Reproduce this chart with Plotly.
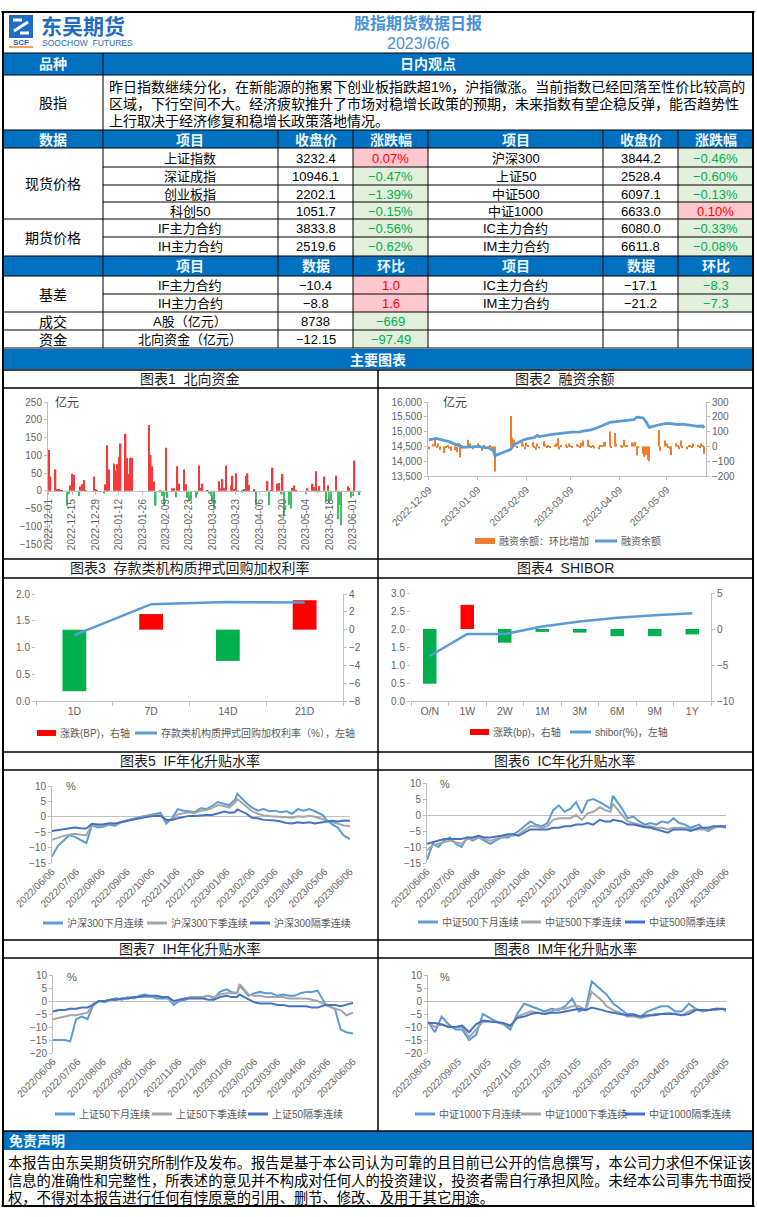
import plotly.graph_objects as go

W, H = 757, 1217
def X(x): return x / W
def Y(y): return 1 - y / H

FONT = "Liberation Sans, Noto Sans CJK SC, sans-serif"
BLUE = "#0070C0"
RED_BG, RED_TX = "#FFC7CE", "#FF0000"
GRN_BG, GRN_TX = "#E2EFDA", "#00B050"
TICKC = "#636363"
AX = "#BFBFBF"

# ---------------- data ----------------
report_title = "股指期货数据日报"
report_date = "2023/6/6"
view_lines = [
    "昨日指数继续分化，在新能源的拖累下创业板指跌超1%，沪指微涨。当前指数已经回落至性价比较高的",
    "区域，下行空间不大。经济疲软推升了市场对稳增长政策的预期，未来指数有望企稳反弹，能否趋势性",
    "上行取决于经济修复和稳增长政策落地情况。",
]
disclaimer_lines = [
    "本报告由东吴期货研究所制作及发布。报告是基于本公司认为可靠的且目前已公开的信息撰写，本公司力求但不保证该",
    "信息的准确性和完整性，所表述的意见并不构成对任何人的投资建议，投资者需自行承担风险。未经本公司事先书面授",
    "权，不得对本报告进行任何有悖原意的引用、删节、修改、及用于其它用途。",
]

px_names_l = ["上证指数", "深证成指", "创业板指", "科创50", "IF主力合约", "IH主力合约"]
px_close_l = ["3232.4", "10946.1", "2202.1", "1051.7", "3833.8", "2519.6"]
px_chg_l = [0.07, -0.47, -1.39, -0.15, -0.56, -0.62]
px_names_r = ["沪深300", "上证50", "中证500", "中证1000", "IC主力合约", "IM主力合约"]
px_close_r = ["3844.2", "2528.4", "6097.1", "6633.0", "6080.0", "6611.8"]
px_chg_r = [-0.46, -0.60, -0.13, 0.10, -0.33, -0.08]

basis_names_l = ["IF主力合约", "IH主力合约"]
basis_vals_l = [-10.4, -8.8]
basis_chg_l = [1.0, 1.6]
basis_names_r = ["IC主力合约", "IM主力合约"]
basis_vals_r = [-17.1, -21.2]
basis_chg_r = [-8.3, -7.3]
flow_labels = ["成交", "资金"]
flow_items = ["A股（亿元）", "北向资金（亿元）"]
flow_vals = ["8738", "−12.15"]
flow_chg = [-669, -97.49]
flow_chg_txt = ["−669", "−97.49"]

# chart 1: northbound net flow (亿元)
nb_dates = ["2022-12-01","2022-12-02","2022-12-05","2022-12-06","2022-12-07","2022-12-08","2022-12-09",
"2022-12-12","2022-12-13","2022-12-14","2022-12-15","2022-12-16",
"2022-12-19","2022-12-20","2022-12-21","2022-12-22","2022-12-23",
"2022-12-28","2022-12-29","2022-12-30",
"2023-01-03","2023-01-04","2023-01-05","2023-01-06",
"2023-01-09","2023-01-10","2023-01-11","2023-01-12","2023-01-13",
"2023-01-16","2023-01-17","2023-01-18","2023-01-19","2023-01-20",
"2023-01-30","2023-01-31","2023-02-01","2023-02-02","2023-02-03",
"2023-02-06","2023-02-07","2023-02-08","2023-02-09","2023-02-10",
"2023-02-13","2023-02-14","2023-02-15","2023-02-16","2023-02-17",
"2023-02-20","2023-02-21","2023-02-22","2023-02-23","2023-02-24",
"2023-02-27","2023-02-28","2023-03-01","2023-03-02","2023-03-03",
"2023-03-06","2023-03-07","2023-03-08","2023-03-09","2023-03-10",
"2023-03-13","2023-03-14","2023-03-15","2023-03-16","2023-03-17",
"2023-03-20","2023-03-21","2023-03-22","2023-03-23","2023-03-24",
"2023-03-27","2023-03-28","2023-03-29","2023-03-30","2023-03-31",
"2023-04-03","2023-04-04",
"2023-04-11","2023-04-12","2023-04-13","2023-04-14",
"2023-04-17","2023-04-18","2023-04-19","2023-04-20","2023-04-21",
"2023-04-24","2023-04-25","2023-04-26","2023-04-27","2023-04-28",
"2023-05-04","2023-05-05",
"2023-05-08","2023-05-09","2023-05-10","2023-05-11","2023-05-12",
"2023-05-15","2023-05-16","2023-05-17","2023-05-18","2023-05-19",
"2023-05-22","2023-05-23","2023-05-24","2023-05-25",
"2023-05-29","2023-05-30","2023-05-31","2023-06-01","2023-06-02",
"2023-06-05"]
nb_values = [115,40,60,5,3,2,2,
-43,-10,15,48,45,
-15,12,18,30,2,
40,3,1,
-8,18,128,60,
77,57,75,95,133,
160,92,47,93,93,
185,101,69,26,-42,
-5,-15,-40,121,-20,
7,7,-18,69,20,
60,18,-20,-30,-25,
-20,-10,71,8,20,
2,-8,-15,-30,-50,
27,7,33,8,71,
15,42,5,49,-3,
-5,3,42,49,16,
5,-40,
27,-40,2,65,
20,22,-10,47,-70,
-40,-50,8,15,2,
-10,7,
20,10,55,-5,13,
40,-30,15,-35,-25,
42,-80,-40,-97,
13,8,-20,-15,85,
-12.15]

# chart 2: margin financing balance (亿元) and daily change
margin_dates = ["2022-12-09","2022-12-12","2022-12-14","2022-12-16","2022-12-20","2022-12-22","2022-12-26",
"2022-12-28","2022-12-30","2023-01-03","2023-01-06","2023-01-10","2023-01-12","2023-01-16","2023-01-18",
"2023-01-19","2023-01-20","2023-01-30","2023-02-01","2023-02-06","2023-02-08","2023-02-10","2023-02-14",
"2023-02-16","2023-02-17","2023-02-21","2023-02-24","2023-02-28","2023-03-03","2023-03-08","2023-03-10",
"2023-03-15","2023-03-17","2023-03-22","2023-03-24","2023-03-29","2023-04-03","2023-04-07","2023-04-12",
"2023-04-14","2023-04-18","2023-04-20","2023-04-21","2023-04-24","2023-04-25","2023-04-26","2023-04-27",
"2023-04-28","2023-05-05","2023-05-09","2023-05-12","2023-05-16","2023-05-19","2023-05-24","2023-05-29",
"2023-06-01","2023-06-02"]
margin_bal = [14720,14760,14770,14740,14700,14660,14560,
14570,14470,14490,14500,14500,14470,14450,14390,
14370,14190,14400,14560,14700,14740,14760,14800,
14870,14830,14860,14900,14920,14940,14960,14980,
14990,15020,15060,15090,15200,15310,15340,15370,
15390,15400,15480,15490,15460,15400,15330,15230,
15140,15240,15280,15270,15240,15250,15210,15180,
15190,15130]
chg_dates = ["2022-12-09","2022-12-12","2022-12-13","2022-12-14","2022-12-15","2022-12-16","2022-12-19","2022-12-20",
"2022-12-21","2022-12-22","2022-12-23","2022-12-26","2022-12-27","2022-12-28","2022-12-29","2022-12-30",
"2023-01-03","2023-01-04","2023-01-05","2023-01-06","2023-01-09","2023-01-10","2023-01-11","2023-01-12",
"2023-01-13","2023-01-16","2023-01-17","2023-01-18","2023-01-19","2023-01-20","2023-01-30","2023-01-31",
"2023-02-01","2023-02-02","2023-02-03","2023-02-06","2023-02-07","2023-02-08","2023-02-09","2023-02-10",
"2023-02-13","2023-02-14","2023-02-15","2023-02-16","2023-02-17","2023-02-20","2023-02-21","2023-02-22",
"2023-02-23","2023-02-24","2023-02-27","2023-02-28","2023-03-01","2023-03-02","2023-03-03","2023-03-06",
"2023-03-07","2023-03-08","2023-03-09","2023-03-10","2023-03-13","2023-03-14","2023-03-15","2023-03-16",
"2023-03-17","2023-03-20","2023-03-21","2023-03-22","2023-03-23","2023-03-24","2023-03-27","2023-03-28",
"2023-03-29","2023-03-30","2023-03-31","2023-04-03","2023-04-04","2023-04-06","2023-04-07","2023-04-10",
"2023-04-11","2023-04-12","2023-04-13","2023-04-14","2023-04-17","2023-04-18","2023-04-19","2023-04-20",
"2023-04-21","2023-04-24","2023-04-25","2023-04-26","2023-04-27","2023-04-28","2023-05-04","2023-05-05",
"2023-05-08","2023-05-09","2023-05-10","2023-05-11","2023-05-12","2023-05-15","2023-05-16","2023-05-17",
"2023-05-18","2023-05-19","2023-05-22","2023-05-23","2023-05-24","2023-05-25","2023-05-26","2023-05-29",
"2023-05-30","2023-05-31","2023-06-01","2023-06-02"]
margin_chg = [-20,15,45,-10,20,-25,-45,-10,10,-15,-30,-25,-40,10,-75,5,
45,20,-10,-20,20,10,-5,-30,10,-15,10,-20,-35,-170,205,60,
45,20,-10,35,15,-20,25,10,30,-10,-25,20,-15,35,15,-5,10,-10,5,20,
55,-20,10,15,-5,20,10,-10,15,5,-5,25,40,45,10,-10,5,-15,-20,10,5,30,30,
100,-10,90,20,10,-10,45,5,10,30,20,30,-60,-5,-50,-70,-60,-90,-100,
110,-30,40,20,-10,-20,-60,20,10,-20,40,-10,-20,10,10,-10,20,10,-10,20,
10,-50]

# chart 3: pledged repo weighted rate
repo_terms = ["1D", "7D", "14D", "21D"]
repo_rate = [1.23, 1.81, 1.85, 1.84]
repo_chg_bp = [-6.9, 1.75, -3.5, 3.3]

# chart 4: SHIBOR
shibor_terms = ["O/N", "1W", "2W", "1M", "3M", "6M", "9M", "1Y"]
shibor_rate = [1.25, 1.86, 1.86, 2.07, 2.21, 2.31, 2.38, 2.44]
shibor_chg_bp = [-7.6, 3.35, -1.9, -0.4, -0.5, -1.0, -1.0, -0.75]

# charts 5-7: annualised basis (%)
basis_dates = ["2022-06-06","2022-06-13","2022-06-20","2022-06-27","2022-07-04","2022-07-11","2022-07-18","2022-07-25",
"2022-08-01","2022-08-08","2022-08-15","2022-08-22","2022-08-29","2022-09-05","2022-09-13","2022-09-19","2022-09-26",
"2022-10-10","2022-10-17","2022-10-24","2022-10-31","2022-11-07","2022-11-14","2022-11-21","2022-11-28","2022-12-05",
"2022-12-12","2022-12-19","2022-12-26","2023-01-03","2023-01-09","2023-01-16","2023-01-19","2023-01-30","2023-02-06",
"2023-02-13","2023-02-20","2023-02-27","2023-03-06","2023-03-13","2023-03-20","2023-03-27","2023-04-03","2023-04-10",
"2023-04-17","2023-04-24","2023-05-04","2023-05-08","2023-05-15","2023-05-22","2023-05-29","2023-06-06"]
if_next_month = [-12.9,-9.5,-7.8,-6.0,-6.5,-7.5,-8.5,-2.8,-3.5,-3.2,-2.5,-3.0,-1.8,-1.2,-0.8,-0.3,0.2,1.0,1.3,-2.2,-0.5,2.5,2.0,1.8,1.5,2.8,2.5,3.5,4.8,4.2,3.8,5.5,7.5,4.5,3.0,2.0,2.5,1.8,2.0,1.5,1.8,1.0,2.5,2.0,2.5,1.8,0.5,-1.0,-2.5,-3.5,-6.0,-7.3]
if_next_qtr = [-7.5,-6.8,-6.2,-5.8,-5.5,-5.8,-6.0,-2.6,-3.0,-2.8,-2.3,-2.5,-1.8,-1.3,-0.8,-0.4,0.0,0.6,0.5,-1.2,-0.8,0.8,1.2,1.5,1.2,2.0,2.2,2.8,3.8,3.5,3.0,4.5,5.8,3.5,1.8,1.0,0.5,0.3,0.2,0.0,0.0,-0.3,0.2,0.0,0.3,0.0,-0.8,-1.2,-1.8,-2.2,-2.8,-3.0]
if_far_qtr = [-4.6,-4.3,-4.0,-3.6,-3.5,-3.7,-3.8,-2.3,-2.5,-2.4,-2.1,-2.2,-1.8,-1.2,-0.8,-0.6,-0.2,0.3,0.3,-1.0,-1.0,-0.5,0.0,0.3,0.3,0.5,0.6,0.6,1.2,1.7,1.3,1.5,2.4,1.0,-0.3,-0.5,-1.0,-1.0,-1.2,-1.5,-2.0,-2.2,-1.8,-2.0,-1.8,-2.2,-1.8,-1.5,-1.3,-1.5,-1.2,-1.3]
ic_next_month = [-14.0,-9.0,-10.0,-8.0,-7.0,-9.0,-10.0,-7.0,-8.0,-7.0,-8.0,-9.0,-8.0,-7.0,-7.0,-6.0,-5.0,-2.0,-3.0,-3.5,-2.5,1.5,3.0,1.0,2.0,4.0,0.5,4.5,5.0,4.0,3.0,2.0,6.0,2.0,-1.0,-0.5,-2.0,-3.0,-2.5,-3.0,-2.0,-2.5,-1.0,-2.5,-3.0,-4.0,-3.0,-4.0,-5.0,-4.0,-3.5,-4.0]
ic_next_qtr = [-11.0,-9.5,-9.0,-8.5,-8.0,-8.5,-9.0,-7.5,-7.5,-7.0,-7.5,-8.0,-7.5,-7.0,-6.5,-6.5,-6.0,-3.5,-3.5,-4.0,-3.5,-1.5,-1.0,-1.0,-1.0,0.0,-1.5,0.5,1.0,2.5,1.5,1.0,3.5,0.0,-2.0,-2.5,-3.0,-3.5,-3.5,-4.0,-4.0,-4.5,-4.0,-4.0,-4.0,-4.5,-4.5,-4.5,-4.5,-4.0,-3.5,-3.5]
ic_far_qtr = [-9.0,-8.5,-8.0,-7.5,-7.5,-7.5,-7.5,-7.0,-7.0,-6.5,-7.0,-7.0,-6.8,-6.5,-6.0,-6.0,-6.5,-4.5,-4.5,-4.5,-4.5,-4.0,-4.0,-3.5,-3.5,-3.0,-3.0,-2.5,-3.0,-1.5,-2.0,-2.0,-1.5,-2.0,-3.0,-3.0,-3.5,-3.8,-4.0,-4.5,-5.0,-5.5,-4.5,-4.5,-4.5,-5.0,-4.0,-4.0,-4.0,-3.5,-3.5,-3.5]
ih_next_month = [-15.0,-15.0,-15.0,-15.5,-7.0,-6.0,-7.0,-1.5,0.0,-0.5,0.5,1.0,0.5,1.5,1.0,2.0,2.5,1.0,1.0,1.0,-1.5,0.0,0.5,1.5,1.5,1.5,2.0,1.0,3.5,4.5,3.5,3.0,6.0,2.0,3.0,3.5,3.0,3.0,2.0,2.5,2.0,2.0,3.0,3.5,3.5,4.0,-1.5,-2.0,-3.0,-11.0,-12.0,-12.5]
ih_next_qtr = [-7.0,-6.5,-6.0,-5.5,-5.5,-5.0,-4.5,-1.0,0.0,0.0,0.5,0.5,1.0,1.0,1.5,1.5,1.5,1.5,1.5,1.0,-0.5,0.5,1.0,1.5,1.5,1.5,2.0,1.5,2.5,3.0,3.0,3.0,6.5,2.5,2.0,2.0,1.5,1.5,1.5,1.5,1.0,1.0,1.0,1.0,0.5,0.0,-1.5,-2.0,-3.0,-3.5,-5.5,-4.5]
ih_far_qtr = [-4.0,-3.5,-3.5,-3.0,-3.0,-2.5,-2.5,-1.5,0.0,0.0,0.5,0.5,1.0,1.0,1.5,1.5,2.0,2.0,1.5,1.5,0.0,0.5,1.0,1.0,1.0,1.0,0.5,0.5,1.5,2.0,1.5,1.5,2.5,0.5,-0.5,-1.0,-1.0,-1.0,-1.5,-1.5,-2.0,-2.0,-2.0,-2.0,-2.5,-2.5,-1.5,-1.5,-1.5,-2.0,-1.5,-0.8]

# chart 8: IM annualised basis (%)
im_dates = ["2022-08-05","2022-08-12","2022-08-19","2022-08-26","2022-09-02","2022-09-09","2022-09-16","2022-09-23",
"2022-09-30","2022-10-14","2022-10-21","2022-10-28","2022-11-04","2022-11-11","2022-11-18","2022-11-25","2022-12-02",
"2022-12-09","2022-12-16","2022-12-23","2022-12-30","2023-01-06","2023-01-13","2023-01-19","2023-01-30","2023-02-03",
"2023-02-10","2023-02-17","2023-02-24","2023-03-03","2023-03-10","2023-03-17","2023-03-24","2023-03-31","2023-04-07",
"2023-04-14","2023-04-21","2023-04-28","2023-05-05","2023-05-12","2023-05-19","2023-05-26","2023-06-02","2023-06-05"]
im_next_month = [-8,-12,-6,-9,-11,-11,-15,-13,-5,-8,-9,-11,-5,-1,-2,-3,-4,-3,-3.5,-2,1,-4,-3,7.5,4,2.5,-1,-3,-5,-5,-6,-4,-3,-2,-2,-4,-4,-1,-3,-4,-3.5,-3,-3,-4]
im_next_qtr = [-8,-10,-9,-10,-10,-10,-14,-11,-8,-8,-9,-10,-6,-5,-4,-4.5,-5,-4,-3,-3,-2,-2,-3.5,3.5,0,-2,-3.5,-4.5,-6,-6,-6.5,-6,-5,-5,-4.5,-5,-5.5,-4,-3,-4,-3.5,-3.5,-3,-4]
im_far_qtr = [-8.5,-8.5,-9,-10,-10,-9.5,-12,-9,-7.5,-8,-8.5,-9.5,-6.5,-6,-5,-4.5,-5,-4.5,-4.5,-4,-3.5,-3,-3.5,-2.5,-3.5,-4,-4.5,-5,-5.5,-5.5,-6,-5.5,-5.5,-5,-5,-5,-5.5,-5,-3.5,-3.5,-3.5,-3,-3,-3.2]

# ---------------- helpers ----------------
shapes, ann = [], []

def rect(x0, y0, x1, y1, fill, lc=None, lw=0):
    shapes.append(dict(type="rect", xref="paper", yref="paper", x0=X(x0), x1=X(x1), y0=Y(y1), y1=Y(y0),
                       fillcolor=fill, line=dict(color=lc or fill, width=lw), layer="below"))

def hline(x0, x1, y, w=1, c="black"):
    shapes.append(dict(type="line", xref="paper", yref="paper", x0=X(x0), x1=X(x1), y0=Y(y), y1=Y(y),
                       line=dict(color=c, width=w), layer="above"))

def vline(x, y0, y1, w=1, c="black"):
    shapes.append(dict(type="line", xref="paper", yref="paper", x0=X(x), x1=X(x), y0=Y(y0), y1=Y(y1),
                       line=dict(color=c, width=w), layer="above"))

def T(x, y, s, size=13, color="#000000", xa="center", bold=False):
    ann.append(dict(x=X(x), y=Y(y), xref="paper", yref="paper", text=(f"<b>{s}</b>" if bold else s),
                    showarrow=False, xanchor=xa, yanchor="middle",
                    font=dict(size=size, color=color, family=FONT)))

def fmt_signed(v, d, pct=False):
    s = f"{abs(v):.{d}f}" + ("%" if pct else "")
    return ("−" + s) if v < 0 else s

def chg_cell(x0, y0, x1, y1, v, txt):
    pos = v > 0
    rect(x0, y0, x1, y1, RED_BG if pos else GRN_BG)
    T((x0 + x1) / 2, (y0 + y1) / 2 + 0.5, txt, 13, RED_TX if pos else GRN_TX)

def leg(kind, x0, x1, y, color, label):
    if kind == "rect":
        rect(x0, y - 3, x1, y + 3, color)
    else:
        hline(x0, x1, y, 3, color)
    T(x1 + 2, y, label, 10, "#595959", xa="left")

# ---------------- header ----------------
shapes.append(dict(type="rect", xref="paper", yref="paper", x0=X(9), x1=X(33), y0=Y(38), y1=Y(15),
                   fillcolor="#1F6CC0", line=dict(width=0), layer="below"))
hline(13, 22, 20, 3, "white"); hline(20, 29, 33, 3, "white")
shapes.append(dict(type="line", xref="paper", yref="paper", x0=X(14), x1=X(28), y0=Y(31), y1=Y(22),
                   line=dict(color="white", width=3)))
T(21, 42.5, "SCF", 8, "#1F6CC0", bold=True)
hline(9, 33, 47, 1.5, "#F08030")
T(39, 26, "东吴期货", 21, "#1F6CC0", xa="left", bold=True)
T(40, 43, "SOOCHOW  FUTURES", 8.5, "#1F6CC0", xa="left")
T(418, 23, report_title, 16, "#4A8FD8", bold=True)
T(418, 43, report_date, 16, "#4A8FD8")

# ---------------- table ----------------
cols = [3, 103, 278, 353, 428, 603, 678, 753]
HT = "#EEF5FC"
rect(3, 53, 753, 75, BLUE)
T(53, 64.5, "品种", 14, HT, bold=True)
T(428, 64.5, "日内观点", 14, HT, bold=True)
T(53, 103, "股指", 14)
for i, line in enumerate(view_lines):
    T(107, 86.5 + i * 17.3, line, 14, xa="left")

rect(3, 130, 753, 148, BLUE)
for i, h in enumerate(["数据", "项目", "收盘价", "涨跌幅", "项目", "收盘价", "涨跌幅"]):
    T((cols[i] + cols[i + 1]) / 2, 139.5, h, 14, HT, bold=True)
rows = [148, 167, 185, 202, 219, 237, 256]
for r in range(6):
    y0, y1 = rows[r], rows[r + 1]
    ym = (y0 + y1) / 2 + 0.5
    T(190.5, ym, px_names_l[r], 13)
    T(315.5, ym, px_close_l[r], 13)
    chg_cell(353, y0, 428, y1, px_chg_l[r], fmt_signed(px_chg_l[r], 2, True))
    T(515.5, ym, px_names_r[r], 13)
    T(640.5, ym, px_close_r[r], 13)
    chg_cell(678, y0, 753, y1, px_chg_r[r], fmt_signed(px_chg_r[r], 2, True))
T(53, 184, "现货价格", 14)
T(53, 238, "期货价格", 14)

rect(3, 256, 753, 276, BLUE)
for i, h in enumerate(["", "项目", "数据", "环比", "项目", "数据", "环比"]):
    if h:
        T((cols[i] + cols[i + 1]) / 2, 266.5, h, 14, HT, bold=True)
rows2 = [276, 294, 312]
for r in range(2):
    y0, y1 = rows2[r], rows2[r + 1]
    ym = (y0 + y1) / 2 + 0.5
    T(190.5, ym, basis_names_l[r], 13)
    T(315.5, ym, fmt_signed(basis_vals_l[r], 1), 13)
    chg_cell(353, y0, 428, y1, basis_chg_l[r], fmt_signed(basis_chg_l[r], 1))
    T(515.5, ym, basis_names_r[r], 13)
    T(640.5, ym, fmt_signed(basis_vals_r[r], 1), 13)
    chg_cell(678, y0, 753, y1, basis_chg_r[r], fmt_signed(basis_chg_r[r], 1))
T(53, 294.5, "基差", 14)
rows3 = [312, 330, 348]
for r in range(2):
    y0, y1 = rows3[r], rows3[r + 1]
    ym = (y0 + y1) / 2 + 0.5
    T(53, ym, flow_labels[r], 14)
    T(190.5, ym, flow_items[r], 13)
    T(315.5, ym, flow_vals[r], 13)
    chg_cell(353, y0, 428, y1, flow_chg[r], flow_chg_txt[r])

# table grid
hline(3, 753, 53); hline(3, 753, 75); hline(3, 753, 130); hline(3, 753, 148)
for y in [167, 185, 202, 237, 294]:
    hline(103, 753, y)
for y in [219, 256, 276, 312, 330, 348]:
    hline(3, 753, y)
vline(103, 53, 130)
for x in cols[1:-1]:
    vline(x, 130, 348)

# ---------------- chart frames ----------------
rect(3, 349, 753, 369, BLUE)
T(378, 359.5, "主要图表", 14, HT, bold=True)
for y in [370, 388, 559, 578, 752, 770, 940, 958, 1131]:
    hline(3, 753, y, 1.5)
vline(378, 370, 1131, 1.5)
titles = [("图表1  北向资金", 190, 379), ("图表2  融资余额", 565, 379),
          ("图表3  存款类机构质押式回购加权利率", 190, 568.5), ("图表4  SHIBOR", 565, 568.5),
          ("图表5  IF年化升贴水率", 190, 761), ("图表6  IC年化升贴水率", 565, 761),
          ("图表7  IH年化升贴水率", 190, 949), ("图表8  IM年化升贴水率", 565, 949)]
for s, x, y in titles:
    T(x, y, s, 14, "#1A1A1A")

rect(3, 1131, 753, 1150, BLUE)
T(7, 1140.5, "免责声明", 14, HT, xa="left", bold=True)
for i, line in enumerate(disclaimer_lines):
    T(6, 1163 + i * 17, line, 14.3, xa="left")
hline(1.5, 754.5, 12, 2); hline(1.5, 754.5, 1206, 2)
vline(3, 12, 1206, 2); vline(753, 12, 1206, 2)

# ---------------- traces ----------------
fig = go.Figure()
DAY = 86400000
RED, GREEN = "#F43B3B", "#3DBE63"

fig.add_trace(go.Bar(x=nb_dates, y=nb_values, width=0.9 * DAY,
                     marker=dict(color=[RED if v >= 0 else GREEN for v in nb_values], line=dict(width=0)),
                     xaxis="x", yaxis="y", showlegend=False))
fig.add_trace(go.Bar(x=chg_dates, y=margin_chg, width=0.75 * DAY, marker=dict(color="#ED7D31", line=dict(width=0)),
                     xaxis="x2", yaxis="y2", showlegend=False))
fig.add_trace(go.Scatter(x=margin_dates, y=margin_bal, mode="lines", line=dict(color="#5B9BD5", width=2.8),
                         xaxis="x2", yaxis="y3", showlegend=False))
fig.add_trace(go.Bar(x=repo_terms, y=repo_chg_bp, width=0.31,
                     marker=dict(color=["#FF0000" if v > 0 else "#00B050" for v in repo_chg_bp], line=dict(width=0)),
                     xaxis="x3", yaxis="y4", showlegend=False))
fig.add_trace(go.Scatter(x=repo_terms, y=repo_rate, mode="lines", line=dict(color="#5B9BD5", width=2.5),
                         xaxis="x3", yaxis="y5", showlegend=False))
fig.add_trace(go.Bar(x=shibor_terms, y=shibor_chg_bp, width=0.36,
                     marker=dict(color=["#FF0000" if v > 0 else "#00B050" for v in shibor_chg_bp], line=dict(width=0)),
                     xaxis="x4", yaxis="y6", showlegend=False))
fig.add_trace(go.Scatter(x=shibor_terms, y=shibor_rate, mode="lines", line=dict(color="#5B9BD5", width=2.5),
                         xaxis="x4", yaxis="y7", showlegend=False))

C1, C2, C3 = "#5B9BD5", "#A5A5A5", "#4472C4"
ts = [("x5", "y8", basis_dates, [if_next_month, if_next_qtr, if_far_qtr]),
      ("x6", "y9", basis_dates, [ic_next_month, ic_next_qtr, ic_far_qtr]),
      ("x7", "y10", basis_dates, [ih_next_month, ih_next_qtr, ih_far_qtr]),
      ("x8", "y11", im_dates, [im_next_month, im_next_qtr, im_far_qtr])]
for xa, ya, d, series in ts:
    for s, c in zip(series, [C1, C2, C3]):
        fig.add_trace(go.Scatter(x=d, y=s, mode="lines", line=dict(color=c, width=2),
                                 xaxis=xa, yaxis=ya, showlegend=False))

# ---------------- axes ----------------
tf = dict(family=FONT, size=10, color=TICKC)
base_ax = dict(showgrid=False, zeroline=False, tickfont=tf, linecolor=AX, tickcolor=AX, ticklen=3,
               automargin=False)
L = {}
L["xaxis"] = dict(base_ax, domain=[X(48), X(362)], type="date",
                  range=["2022-11-30 12:00", "2023-06-06 12:00"], anchor="free", position=Y(491),
                  showline=True, tickmode="linear", tick0="2022-12-01", dtick=14 * DAY,
                  tickformat="%Y-%m-%d", tickangle=-90, ticks="outside")
L["yaxis"] = dict(base_ax, domain=[Y(544), Y(402)], range=[-150, 250], dtick=50, anchor="x",
                  showline=True, ticks="outside")
L["xaxis2"] = dict(base_ax, domain=[X(428), X(706)], type="date",
                   range=["2022-12-08 12:00", "2023-06-03"], anchor="y2", showline=True,
                   tick0="2022-12-09", dtick="M1", tickformat="%Y-%m-%d", tickangle=-45, ticks="outside")
L["yaxis2"] = dict(base_ax, domain=[Y(476), Y(402)], range=[-200, 300], dtick=100, side="right",
                   anchor="x2", showline=True, ticks="outside")
L["yaxis3"] = dict(base_ax, overlaying="y2", side="left", anchor="x2", range=[13500, 16000], dtick=500,
                   tickformat=",", showline=True, ticks="outside")
L["xaxis3"] = dict(base_ax, domain=[X(36), X(343)], type="category", anchor="y4", showline=True,
                   ticks="outside", tickson="boundaries", ticklen=4, tickfont=dict(tf, size=10.5))
L["yaxis4"] = dict(base_ax, domain=[Y(701), Y(594)], range=[-8, 4], dtick=2, side="right", anchor="x3",
                   showline=True, ticks="outside")
L["yaxis5"] = dict(base_ax, overlaying="y4", side="left", anchor="x3", range=[0, 2], dtick=0.5,
                   tickformat=".1f", showline=False, ticks="outside")
L["xaxis4"] = dict(base_ax, domain=[X(411), X(711)], type="category", anchor="y6", showline=True,
                   ticks="outside", tickson="boundaries", ticklen=4, tickfont=dict(tf, size=10.5))
L["yaxis6"] = dict(base_ax, domain=[Y(701), Y(593)], range=[-10, 5], dtick=5, side="right", anchor="x4",
                   showline=True, ticks="outside")
L["yaxis7"] = dict(base_ax, overlaying="y6", side="left", anchor="x4", range=[0, 3], dtick=0.5,
                   tickformat=".1f", showline=False, ticks="outside")

ts_ax = [("xaxis5", "yaxis8", "x5", "y8", (52, 350), (786, 863), ["2022-06-06", "2023-06-06"], [-15, 10]),
         ("xaxis6", "yaxis9", "x6", "y9", (427, 726), (783, 863), ["2022-06-06", "2023-06-06"], [-15, 10]),
         ("xaxis7", "yaxis10", "x7", "y10", (53, 353), (975, 1053), ["2022-06-06", "2023-06-06"], [-20, 10]),
         ("xaxis8", "yaxis11", "x8", "y11", (428, 726), (975, 1053), ["2022-08-05", "2023-06-05"], [-20, 10])]
for xk, yk, xid, yid, xd, yd, xr, yr in ts_ax:
    L[xk] = dict(base_ax, domain=[X(xd[0]), X(xd[1])], type="date", range=xr, anchor=yid,
                 tick0=xr[0], dtick="M1", tickformat="%Y/%m/%d", tickangle=-45, showline=False, ticks="")
    L[yk] = dict(base_ax, domain=[Y(yd[1]), Y(yd[0])], range=yr, dtick=5, anchor=xid, showline=True,
                 ticks="outside", zeroline=True, zerolinecolor=AX, zerolinewidth=1)

# unit labels
T(53, 403, "亿元", 12, "#404040", xa="left")
T(441, 403, "亿元", 12, "#404040", xa="left")
for x, y in [(64, 786), (438, 784), (65, 977), (438, 977)]:
    T(x, y, "%", 11, "#595959", xa="left")

# manual legends
leg("rect", 475, 495, 541, "#ED7D31", "融资余额：环比增加")
leg("line", 595, 617, 541, "#5B9BD5", "融资余额")
leg("rect", 37, 56, 733, "#FF0000", "涨跌(BP)，右轴")
leg("line", 135, 157, 733, "#5B9BD5", "存款类机构质押式回购加权利率（%），左轴")
leg("rect", 470, 489, 732, "#FF0000", "涨跌(bp)，右轴")
leg("line", 570, 591, 732, "#5B9BD5", "shibor(%)，左轴")
leg_pos = [([43, 147, 250], 923, ["沪深300下月连续", "沪深300下季连续", "沪深300隔季连续"]),
           ([418, 521, 625], 922, ["中证500下月连续", "中证500下季连续", "中证500隔季连续"]),
           ([55, 152, 248], 1114, ["上证50下月连续", "上证50下季连续", "上证50隔季连续"]),
           ([415, 521, 625], 1114, ["中证1000下月连续", "中证1000下季连续", "中证1000隔季连续"])]
for xs, y, labels in leg_pos:
    for x0, lab, c in zip(xs, labels, [C1, C2, C3]):
        leg("line", x0, x0 + 20, y, c, lab)

fig.update_layout(width=W, height=H, margin=dict(l=0, r=0, t=0, b=0, pad=0), autosize=False,
                  paper_bgcolor="white", plot_bgcolor="rgba(0,0,0,0)",
                  font=dict(family=FONT), showlegend=False, barmode="overlay",
                  shapes=shapes, annotations=ann, **L)

fig.write_html("out.html", config={"displayModeBar": False},
               post_script="document.body.style.margin='0';")
